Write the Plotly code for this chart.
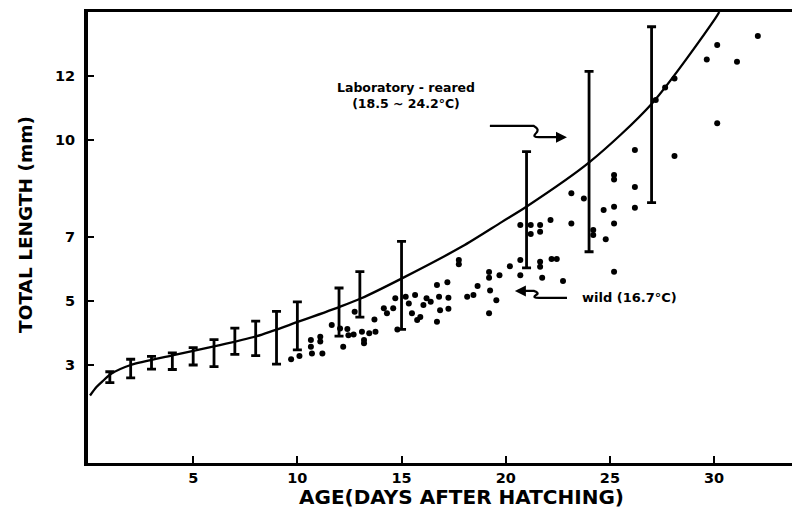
import plotly.graph_objects as go

# ---- data ----
# Laboratory-reared: day, mean length, half-range of the vertical bar
lab_day = [1, 2, 3, 4, 5, 6, 7, 8, 9, 10, 12, 13, 15, 21, 24, 27]
lab_mean = [2.62, 2.89, 3.07, 3.12, 3.27, 3.37, 3.74, 3.83, 3.85, 4.22, 4.65, 5.20, 5.48, 7.84, 9.34, 10.80]
lab_sd = [0.17, 0.29, 0.20, 0.26, 0.27, 0.42, 0.41, 0.54, 0.82, 0.75, 0.75, 0.71, 1.37, 1.81, 2.81, 2.74]

# fitted growth curve of laboratory-reared larvae
curve_day = [0.05, 0.37, 0.63, 1.05, 2.0, 4.0, 6.0, 8.05, 10.05, 12.06, 13.07, 15.02,
             17.9, 19.82, 20.99, 24.02, 27.02, 30.06, 30.25]
curve_len = [2.05, 2.32, 2.48, 2.72, 3.0, 3.3, 3.58, 3.9, 4.35, 4.82, 5.08, 5.70,
             6.69, 7.46, 7.93, 9.32, 11.15, 13.8, 14.0]

# wild larvae (16.7 C)
wild_day = [9.7, 10.1, 10.65, 10.65, 10.7, 11.1, 11.1, 11.2, 11.65, 12.05, 12.2, 12.4, 12.45,
            12.7, 12.75, 13.1, 13.2, 13.2, 13.45, 13.7, 13.75, 14.15, 14.3, 14.6, 14.7, 14.8,
            15.2, 15.35, 15.5, 15.65, 15.75, 15.9, 16.05, 16.2, 16.4, 16.7, 16.7, 16.8, 16.85,
            17.2, 17.25, 17.25, 17.75, 17.75, 18.15, 18.45, 18.65, 19.2, 19.2, 19.25, 19.2,
            19.55, 19.7, 20.2, 20.7, 20.7, 20.7, 21.2, 21.2, 21.65, 21.65, 21.65, 21.65, 21.75,
            22.15, 22.2, 22.45, 22.75, 23.15, 23.15, 23.75, 24.2, 24.2, 24.7, 24.8, 25.2, 25.2,
            25.2, 25.2, 25.2, 26.2, 26.2, 26.2, 27.2, 27.65, 28.1, 28.1, 29.65, 30.15, 30.15,
            31.1, 32.1]
wild_len = [3.18, 3.28, 3.78, 3.57, 3.36, 3.88, 3.73, 3.36, 4.25, 4.14, 3.57, 4.12, 3.93,
            3.95, 4.66, 4.04, 3.78, 3.68, 3.99, 4.42, 4.04, 4.77, 4.61, 4.77, 5.08, 4.11,
            5.13, 4.92, 4.61, 5.18, 4.40, 4.50, 4.87, 5.08, 4.97, 5.49, 4.35, 5.13, 4.71,
            5.58, 5.10, 4.75, 6.27, 6.14, 5.13, 5.18, 5.46, 5.90, 5.72, 5.32, 4.61,
            5.02, 5.80, 6.08, 6.27, 5.80, 7.36, 7.36, 7.08, 7.36, 7.15, 6.22, 6.06, 5.72,
            7.52, 6.30, 6.30, 5.62, 7.41, 8.35, 8.19, 7.21, 7.05, 7.83, 6.92, 7.93, 7.41,
            8.92, 8.78, 5.91, 9.70, 8.55, 7.90, 11.26, 11.65, 11.93, 9.51, 12.52, 12.97, 10.53,
            12.45, 13.25]

x_ticks = [5, 10, 15, 20, 25, 30]
y_ticks = [3, 5, 7, 10, 12]
y_ticktext = ["3", "5", "7", "10", "12"]

FONT = "DejaVu Sans"

fig = go.Figure()

fig.add_trace(go.Scatter(
    x=curve_day, y=curve_len, mode="lines", line=dict(color="black", width=2.3, shape="spline", smoothing=0.8),
    hoverinfo="skip", showlegend=False))

fig.add_trace(go.Scatter(
    x=lab_day, y=lab_mean, mode="markers",
    marker=dict(color="rgba(0,0,0,0)", size=2),
    error_y=dict(type="data", array=lab_sd, color="black", thickness=2.8, width=4.5),
    showlegend=False))

fig.add_trace(go.Scatter(
    x=wild_day, y=wild_len, mode="markers",
    marker=dict(color="black", size=6, line=dict(width=0)),
    showlegend=False))

# connector arrows (Laboratory-reared label and wild label)
fig.add_shape(type="path", xref="x", yref="y",
              path="M 19.24 10.45 L 21.35 10.45 Q 21.65 10.35 21.45 10.22 Q 21.25 10.1 21.6 10.1 L 22.6 10.1",
              line=dict(color="black", width=2.2))
fig.add_annotation(x=22.94, y=10.1, ax=22.4, ay=10.1, xref="x", yref="y", axref="x", ayref="y",
                   text="", showarrow=True, arrowhead=2, arrowsize=1, arrowwidth=2.2, arrowcolor="black")
fig.add_shape(type="path", xref="x", yref="y",
              path="M 20.9 5.31 L 21.35 5.31 Q 21.65 5.25 21.45 5.18 Q 21.25 5.09 21.6 5.09 L 22.94 5.09",
              line=dict(color="black", width=2.2))
fig.add_annotation(x=20.44, y=5.31, ax=21.0, ay=5.31, xref="x", yref="y", axref="x", ayref="y",
                   text="", showarrow=True, arrowhead=2, arrowsize=1, arrowwidth=2.2, arrowcolor="black")

fig.add_annotation(x=15.2, y=11.4, xref="x", yref="y", showarrow=False,
                   text="Laboratory - reared<br>(18.5 ~ 24.2°C)",
                   font=dict(family=FONT, size=12.5, color="black", weight="bold"), align="center")
fig.add_annotation(x=23.56, y=5.1, xref="x", yref="y", showarrow=False, xanchor="left",
                   text="wild (16.7°C)",
                   font=dict(family=FONT, size=13, color="black", weight="bold"))

# axis titles
fig.add_annotation(x=0.53, y=-0.0754, xref="paper", yref="paper", showarrow=False,
                   text="AGE(DAYS AFTER HATCHING)", xanchor="center", yanchor="middle",
                   font=dict(family=FONT, size=20, color="black", weight="bold"))
fig.add_annotation(x=-0.088, y=0.528, xref="paper", yref="paper", showarrow=False,
                   text="TOTAL LENGTH (mm)", textangle=-90, xanchor="center", yanchor="middle",
                   font=dict(family=FONT, size=18.5, color="black", weight="bold"))

fig.update_layout(
    width=792, height=515,
    margin=dict(l=88, r=0, t=12, b=52),
    paper_bgcolor="white", plot_bgcolor="white",
    xaxis=dict(range=[-0.048, 33.74], tickvals=x_ticks, ticks="inside", ticklen=7, tickwidth=2,
               tickcolor="black", showline=True, linecolor="black", linewidth=3, mirror=True,
               showgrid=False, zeroline=False,
               tickfont=dict(family=FONT, size=14.5, color="black", weight="bold")),
    yaxis=dict(range=[-0.053, 14.0], tickvals=y_ticks, ticktext=y_ticktext, ticks="inside",
               ticklen=6, tickwidth=2, tickcolor="black", showline=True, linecolor="black",
               linewidth=4, mirror=False, showgrid=False, zeroline=False, ticklabelstandoff=6,
               tickfont=dict(family=FONT, size=14.5, color="black", weight="bold")),
)

fig.write_html("out.html")
